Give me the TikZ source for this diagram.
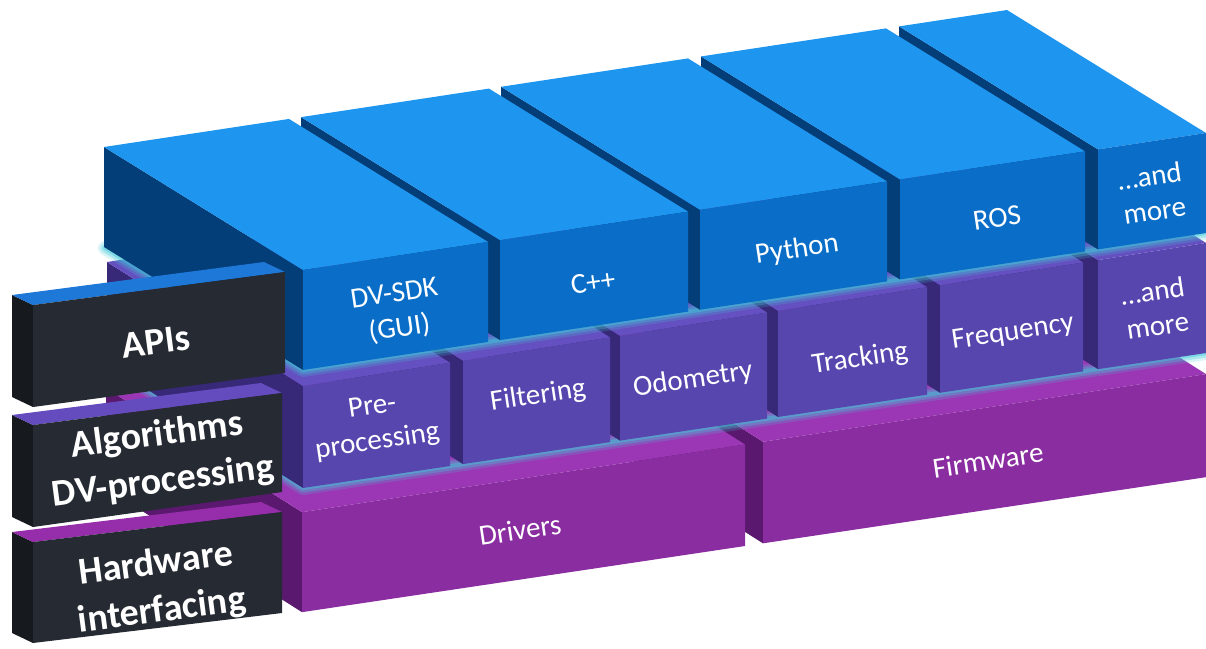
\documentclass[tikz,border=0pt]{standalone}
\usepackage{fontspec}
\setmainfont{Carlito}
\definecolor{blfront}{HTML}{0A6EC8}
\definecolor{bltop}{HTML}{1E96F0}
\definecolor{blside}{HTML}{043E78}
\definecolor{mdfront}{HTML}{5846AF}
\definecolor{mdtop}{HTML}{6450C0}
\definecolor{mdside}{HTML}{372878}
\definecolor{mgfront}{HTML}{8A2DA0}
\definecolor{mgtop}{HTML}{9B37B4}
\definecolor{mgside}{HTML}{5A196E}
\definecolor{lbfront}{HTML}{252A33}
\definecolor{lbside}{HTML}{16191E}
\definecolor{lbtopA}{HTML}{1E78D7}
\definecolor{lbtopB}{HTML}{644BBE}
\definecolor{lbtopC}{HTML}{962DAA}
\definecolor{glowc}{HTML}{40C8D8}
% #1 x0, #2 x1, #3 top y at x=303, #4 top slope, #5 bottom y at 303, #6 bottom slope, #7 depth vector, #8 colour prefix
\newcommand{\myslab}[8]{%
 \pgfmathsetmacro\myYa{#3+(#4)*(#1-303)}%
 \pgfmathsetmacro\myYb{#3+(#4)*(#2-303)}%
 \pgfmathsetmacro\myYc{#5+(#6)*(#1-303)}%
 \pgfmathsetmacro\myYd{#5+(#6)*(#2-303)}%
 \pgfmathsetmacro\myH{\myYc-\myYa}%
 \pgfmathsetmacro\myW{#2-#1}%
 \pgfmathsetmacro\myS{\myYb-\myYa}%
 \fill[#8side] (#1,\myYa) -- ++(#7) -- ++(0,\myH) -- (#1,\myYc) -- cycle;
 \fill[#8top] (#1,\myYa) -- ++(#7) -- ++(\myW,\myS) -- (#2,\myYb) -- cycle;
 \fill[#8front] (#1,\myYa) -- (#2,\myYb) -- (#2,\myYd) -- (#1,\myYc) -- cycle;
}
\begin{document}
\begin{tikzpicture}[x=1pt,y=-1pt,
  lbl/.style={text=white, font=\fontsize{29}{35}\selectfont, align=center, inner sep=0pt, rotate=8.5},
  hdr/.style={text=white, font=\bfseries\fontsize{38}{47}\selectfont, align=center, inner sep=0pt, rotate=7.5},
  glowline/.style={draw=glowc, line cap=round, line join=round}]
\useasboundingbox (0,0) rectangle (1206,648);

% ---- bottom layer (hardware) ----
\myslab{763}{1206}{512}{-0.1527}{612}{-0.1493}{-196,-124}{mg}
\myslab{302}{745}{512}{-0.1527}{612}{-0.1493}{-196,-124}{mg}
\foreach \w/\o in {14/0.2,9/0.3,4/0.45}
  \draw[glowline, line width=\w pt, draw opacity=\o] (107,364) -- (303,488) -- (1206,353);

% ---- middle layer (algorithms) ----
\myslab{1098}{1206}{386}{-0.1584}{488}{-0.1495}{-196,-124}{md}
\myslab{940}{1083}{386}{-0.1584}{488}{-0.1495}{-196,-124}{md}
\myslab{778}{927}{386}{-0.1584}{488}{-0.1495}{-196,-124}{md}
\myslab{620}{767}{386}{-0.1584}{488}{-0.1495}{-196,-124}{md}
\myslab{463}{610}{386}{-0.1584}{488}{-0.1495}{-196,-124}{md}
\myslab{303}{450}{386}{-0.1584}{488}{-0.1495}{-196,-124}{md}
\foreach \w/\o in {14/0.2,9/0.3,4/0.45}
  \draw[glowline, line width=\w pt, draw opacity=\o] (105,248) -- (303,370) -- (1206,233);

% ---- top layer (APIs) ----
\myslab{1098}{1206}{270}{-0.1517}{370}{-0.1517}{-199,-123}{bl}
\myslab{900}{1085}{270}{-0.1517}{370}{-0.1517}{-199,-123}{bl}
\myslab{700}{887}{270}{-0.1517}{370}{-0.1517}{-199,-123}{bl}
\myslab{500}{688}{270}{-0.1517}{370}{-0.1517}{-199,-123}{bl}
\myslab{303}{488}{270}{-0.1517}{370}{-0.1517}{-199,-123}{bl}

% ---- block texts ----
\node[lbl] (dvsdk) at (397,312) {DV-SDK\\(GUI)};
\node[lbl] (cpp) at (593,282) {C++};
\node[lbl] (python) at (797,250) {Python};
\node[lbl] (ros) at (997,218) {ROS};
\node[lbl] (moreA) at (1152,193) {…and\\more};
\node[lbl] (prep) at (375,425) {Pre-\\processing};
\node[lbl] (filt) at (538,396) {Filtering};
\node[lbl] (odo) at (693,380) {Odometry};
\node[lbl] (track) at (860,359) {Tracking};
\node[lbl] (freq) at (1013,333) {Frequency};
\node[lbl] (moreB) at (1155,308) {…and\\more};
\node[lbl] (drivers) at (520,530) {Drivers};
\node[lbl] (firmware) at (988,460) {Firmware};

% ---- label blocks ----
\fill[lbside] (33,305) -- (12,295) -- (12,397) -- (33,407) -- cycle;
\fill[lbtopA] (33,305) -- (12,295) -- (264,262) -- (285,272) -- cycle;
\fill[lbfront] (33,305) -- (285,272) -- (285,373) -- (33,407) -- cycle;

\fill[lbside] (33,425) -- (12,415) -- (12,517) -- (33,527) -- cycle;
\fill[lbtopB] (33,425) -- (12,415) -- (261,383) -- (282,393) -- cycle;
\fill[lbfront] (33,425) -- (282,393) -- (282,492) -- (33,527) -- cycle;

\fill[lbside] (33,542) -- (12,532) -- (12,633) -- (33,643) -- cycle;
\fill[lbtopC] (33,542) -- (12,532) -- (261,502) -- (282,512) -- cycle;
\fill[lbfront] (33,542) -- (282,512) -- (282,613) -- (33,643) -- cycle;

\node[hdr] (apis) at (156,342) {APIs};
\node[hdr] (algo) at (160,459) {Algorithms\\DV-processing};
\node[hdr] (hw) at (159,588) {Hardware\\interfacing};
\end{tikzpicture}
\end{document}
